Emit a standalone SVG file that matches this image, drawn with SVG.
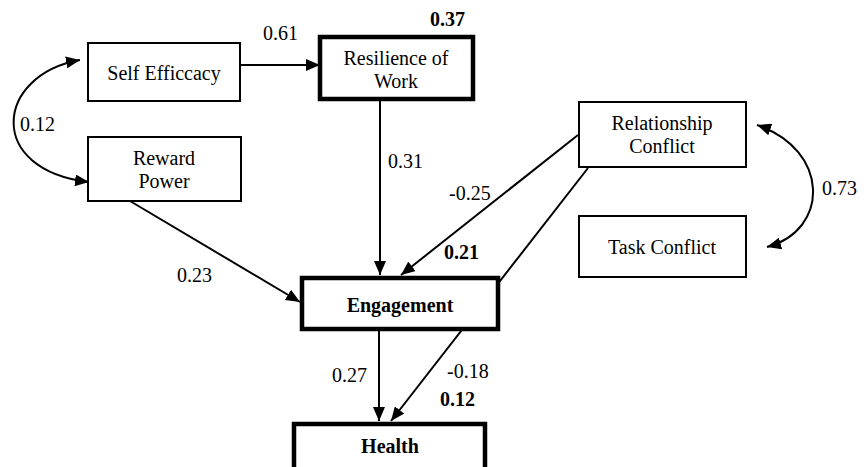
<svg xmlns="http://www.w3.org/2000/svg" width="864" height="467" viewBox="0 0 864 467">
<style>
.box{fill:#fff;stroke:#000;stroke-width:2}
.thick{fill:#fff;stroke:#000;stroke-width:4.5}
.t{font-family:'Liberation Serif','DejaVu Serif',serif;font-size:20px;fill:#000}
.c{text-anchor:middle}
.b{font-weight:bold}
.ln{fill:none;stroke:#000;stroke-width:2}
</style>
<defs>
<marker id="ah" viewBox="0 0 14 12" refX="14" refY="6" markerWidth="14" markerHeight="12" markerUnits="userSpaceOnUse" orient="auto-start-reverse">
<path d="M0,0 L14,6 L0,12 Z" fill="#000"/>
</marker>
</defs>
<rect width="864" height="467" fill="#fff"/>
<g id="connectors">
<line class="ln" x1="240" y1="65" x2="320" y2="65" marker-end="url(#ah)"/>
<line class="ln" x1="380" y1="100" x2="380" y2="275" marker-end="url(#ah)"/>
<line class="ln" x1="130" y1="201" x2="300" y2="302" marker-end="url(#ah)"/>
<line class="ln" x1="578" y1="135" x2="401" y2="275" marker-end="url(#ah)"/>
<line class="ln" x1="588" y1="168" x2="391" y2="421" marker-end="url(#ah)"/>
<line class="ln" x1="379" y1="330" x2="379" y2="421" marker-end="url(#ah)"/>
<path class="ln" d="M80,60 C-5,75 -15,170 89,182" marker-start="url(#ah)" marker-end="url(#ah)"/>
<path class="ln" d="M757,125 C830,150 830,230 767,247" marker-start="url(#ah)" marker-end="url(#ah)"/>
</g>
<g id="self-efficacy">
<rect class="box" x="88" y="43" width="152" height="58"/>
<text class="t c" x="164" y="80" font-family="Liberation Serif, serif">Self Efficcacy</text>
</g>
<g id="reward-power">
<rect class="box" x="88" y="137" width="153" height="64"/>
<text class="t c" x="164" y="165">Reward</text>
<text class="t c" x="164" y="188">Power</text>
</g>
<g id="resilience">
<rect class="thick" x="320" y="37" width="153" height="62"/>
<text class="t c" x="396" y="65">Resilience of</text>
<text class="t c" x="396" y="88">Work</text>
</g>
<g id="relationship-conflict">
<rect class="box" x="579" y="102" width="167" height="65"/>
<text class="t c" x="662" y="130">Relationship</text>
<text class="t c" x="662" y="153">Conflict</text>
</g>
<g id="task-conflict">
<rect class="box" x="579" y="216" width="167" height="61"/>
<text class="t c" x="662" y="254">Task Conflict</text>
</g>
<g id="engagement">
<rect class="thick" x="302" y="278" width="196" height="51"/>
<text class="t c b" x="400" y="312">Engagement</text>
</g>
<g id="health">
<rect class="thick" x="294" y="424" width="191" height="48"/>
<text class="t c b" x="390" y="453">Health</text>
</g>
<g id="labels">
<text class="t" x="263" y="40">0.61</text>
<text class="t b" x="430" y="26">0.37</text>
<text class="t" x="20" y="131">0.12</text>
<text class="t" x="388" y="168">0.31</text>
<text class="t" x="449" y="200">-0.25</text>
<text class="t" x="822" y="195">0.73</text>
<text class="t b" x="444" y="259">0.21</text>
<text class="t" x="177" y="282">0.23</text>
<text class="t" x="332" y="382">0.27</text>
<text class="t" x="447" y="378">-0.18</text>
<text class="t b" x="440" y="406">0.12</text>
</g>
</svg>
